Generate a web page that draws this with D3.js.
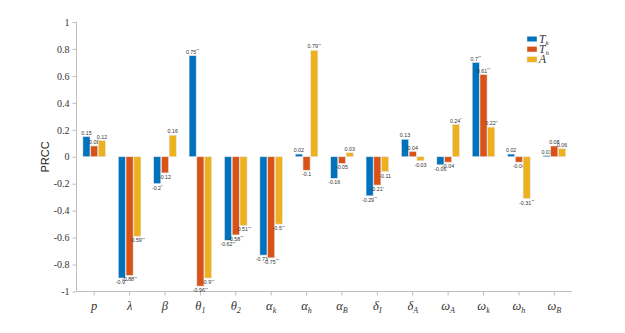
<!DOCTYPE html>
<html><head><meta charset="utf-8">
<script src="https://cdn.jsdelivr.net/npm/d3@7"></script>
<style>body{margin:0;background:#fff}svg{display:block}</style>
</head><body><svg id="c" width="625" height="333"></svg>
<script>
const categories = [["p",""],["λ",""],["β",""],["θ","1"],["θ","2"],["α","k"],["α","h"],["α","B"],["δ","I"],["δ","A"],["ω","A"],["ω","k"],["ω","h"],["ω","B"]];
const seriesNames = [["T","k"],["T","h"],["A",""]];
const colors = ["#0072BD","#D95319","#EDB120"];
const Tk = [0.15,-0.9,-0.2,0.75,-0.62,-0.73,0.02,-0.16,-0.29,0.13,-0.06,0.7,0.02,0.01];
const Th = [0.08,-0.88,-0.12,-0.96,-0.58,-0.75,-0.1,-0.05,-0.21,0.04,-0.04,0.61,-0.04,0.08];
const A  = [0.12,-0.59,0.16,-0.9,-0.51,-0.5,0.79,0.03,-0.11,-0.03,0.24,0.22,-0.31,0.06];
const TkStars = ["","**","*","**","**","**","","","**","","","**","",""];
const ThStars = ["","**","","**","**","**","","","*","","","**","",""];
const AStars  = ["","**","","**","**","**","**","","","","*","*","**",""];
const yTicks = [1,0.8,0.6,0.4,0.2,0,-0.2,-0.4,-0.6,-0.8,-1];

const SERIF="'Liberation Serif','DejaVu Serif',serif";
const SANS="'Liberation Sans','DejaVu Sans',Arial,sans-serif";
const series=[Tk,Th,A], stars=[TkStars,ThStars,AStars];
const svg=d3.select("#c");
const x=d3.scaleBand().domain(d3.range(categories.length)).range([76.5,572]).padding(0);
const y=d3.scaleLinear().domain([-1,1]).range([291.5,22]);
const sub=d3.scaleBand().domain([0,1,2]).range([-11.3,11.3]).paddingInner(0.08);
const axCol="#bdbdbd";

const ya=svg.append("g").attr("transform","translate(76.5,0)")
 .call(d3.axisLeft(y).tickValues(yTicks).tickSize(4).tickFormat(d=>String(d)));
const xa=svg.append("g").attr("transform","translate(0,291.5)")
 .call(d3.axisBottom(x).tickSize(4).tickFormat(""));
[ya,xa].forEach(g=>{g.attr("font-family",null).selectAll("path,line").attr("stroke",axCol);});
ya.select(".domain").attr("d","M0,291.5V22");
xa.select(".domain").attr("d","M76.5,0H572");
ya.selectAll("text").style("font-family",SERIF).style("font-size","10px").attr("fill","#333").attr("x",-7);

categories.forEach((c,i)=>{
 const t=svg.append("text").style("font-family",SERIF).attr("x",x(i)+x.bandwidth()/2).attr("y",310).attr("text-anchor","middle")
  .style("font-style","italic").style("font-size","12.5px").attr("fill","#333");
 t.append("tspan").text(c[0]);
 if(c[1]) t.append("tspan").attr("dy",3).style("font-size","8px").text(c[1]);
});

svg.append("text").style("font-family",SANS).attr("transform","translate(49,157) rotate(-90)").attr("text-anchor","middle")
 .style("font-size","11px").attr("fill","#222").text("PRCC");

series.forEach((s,k)=>{
 const g=svg.append("g");
 g.selectAll("rect").data(s).join("rect")
  .attr("x",(d,i)=>x(i)+x.bandwidth()/2+sub(k))
  .attr("width",sub.bandwidth())
  .attr("y",d=>y(Math.max(0,d)))
  .attr("height",d=>Math.abs(y(d)-y(0)))
  .attr("fill",colors[k]).attr("stroke","#e6e6e6").attr("stroke-width",0.6);
 const lab=g.selectAll("text").data(s).join("text").style("font-family",SANS)
  .attr("x",(d,i)=>x(i)+x.bandwidth()/2+sub(k)+sub.bandwidth()/2)
  .attr("y",d=>d>=0? y(d)-1.8 : y(d)+6)
  .attr("text-anchor","middle")
  .style("font-size","5.3px").attr("fill","#333");
 lab.each(function(d,i){
  const t=d3.select(this);
  t.append("tspan").text(String(d));
  if(stars[k][i]) t.append("tspan").style("font-size","4px").attr("dy",-1.5).text(stars[k][i]);
 });
});

seriesNames.forEach((n,k)=>{
 const yy=39+k*10.2;
 svg.append("rect").attr("x",527).attr("y",yy-2.8).attr("width",10).attr("height",5.6).attr("fill",colors[k]).attr("stroke","#e6e6e6").attr("stroke-width",0.5);
 const t=svg.append("text").style("font-family",SERIF).attr("x",539).attr("y",yy+4).style("font-style","italic").style("font-size","11.5px").attr("fill","#333");
 t.append("tspan").text(n[0]);
 if(n[1]) t.append("tspan").attr("dy",2).style("font-size","7px").text(n[1]);
});
</script></body></html>
